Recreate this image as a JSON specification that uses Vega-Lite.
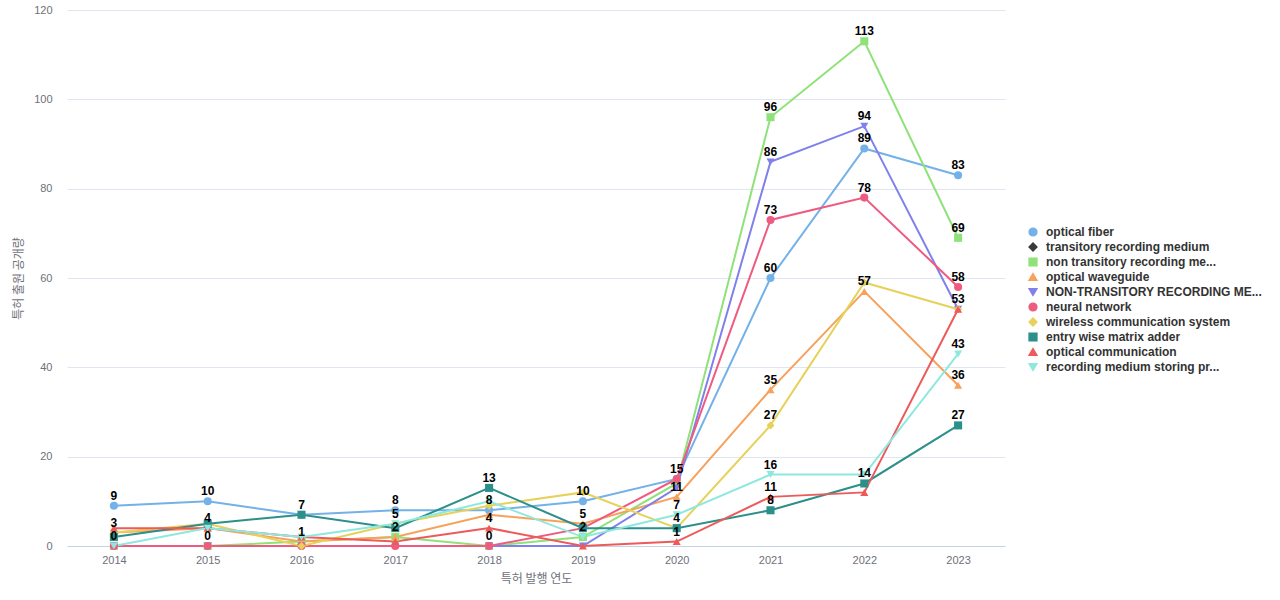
{
  "$schema": "https://vega.github.io/schema/vega-lite/v6.json",
  "width": 938,
  "height": 536,
  "autosize": {"type": "none"},
  "padding": {"left": 67, "top": 10, "right": 275, "bottom": 54},
  "config": {
    "background": "white",
    "view": {"stroke": null},
    "font": "Liberation Sans"
  },
  "data": {
    "values": [
      {"series": "optical fiber", "year": "2014", "value": 9},
      {"series": "optical fiber", "year": "2015", "value": 10},
      {"series": "optical fiber", "year": "2016", "value": 7},
      {"series": "optical fiber", "year": "2017", "value": 8},
      {"series": "optical fiber", "year": "2018", "value": 8},
      {"series": "optical fiber", "year": "2019", "value": 10},
      {"series": "optical fiber", "year": "2020", "value": 15},
      {"series": "optical fiber", "year": "2021", "value": 60},
      {"series": "optical fiber", "year": "2022", "value": 89},
      {"series": "optical fiber", "year": "2023", "value": 83},
      {"series": "non transitory recording me...", "year": "2014", "value": 0},
      {"series": "non transitory recording me...", "year": "2015", "value": 0},
      {"series": "non transitory recording me...", "year": "2016", "value": 1},
      {"series": "non transitory recording me...", "year": "2017", "value": 2},
      {"series": "non transitory recording me...", "year": "2018", "value": 0},
      {"series": "non transitory recording me...", "year": "2019", "value": 2},
      {"series": "non transitory recording me...", "year": "2020", "value": 14},
      {"series": "non transitory recording me...", "year": "2021", "value": 96},
      {"series": "non transitory recording me...", "year": "2022", "value": 113},
      {"series": "non transitory recording me...", "year": "2023", "value": 69},
      {"series": "optical waveguide", "year": "2014", "value": 3},
      {"series": "optical waveguide", "year": "2015", "value": 4},
      {"series": "optical waveguide", "year": "2016", "value": 1},
      {"series": "optical waveguide", "year": "2017", "value": 2},
      {"series": "optical waveguide", "year": "2018", "value": 7},
      {"series": "optical waveguide", "year": "2019", "value": 5},
      {"series": "optical waveguide", "year": "2020", "value": 11},
      {"series": "optical waveguide", "year": "2021", "value": 35},
      {"series": "optical waveguide", "year": "2022", "value": 57},
      {"series": "optical waveguide", "year": "2023", "value": 36},
      {"series": "NON-TRANSITORY RECORDING ME...", "year": "2014", "value": 0},
      {"series": "NON-TRANSITORY RECORDING ME...", "year": "2015", "value": 0},
      {"series": "NON-TRANSITORY RECORDING ME...", "year": "2016", "value": 0},
      {"series": "NON-TRANSITORY RECORDING ME...", "year": "2017", "value": 0},
      {"series": "NON-TRANSITORY RECORDING ME...", "year": "2018", "value": 0},
      {"series": "NON-TRANSITORY RECORDING ME...", "year": "2019", "value": 0},
      {"series": "NON-TRANSITORY RECORDING ME...", "year": "2020", "value": 13},
      {"series": "NON-TRANSITORY RECORDING ME...", "year": "2021", "value": 86},
      {"series": "NON-TRANSITORY RECORDING ME...", "year": "2022", "value": 94},
      {"series": "NON-TRANSITORY RECORDING ME...", "year": "2023", "value": 53},
      {"series": "neural network", "year": "2014", "value": 0},
      {"series": "neural network", "year": "2015", "value": 0},
      {"series": "neural network", "year": "2016", "value": 0},
      {"series": "neural network", "year": "2017", "value": 0},
      {"series": "neural network", "year": "2018", "value": 0},
      {"series": "neural network", "year": "2019", "value": 4},
      {"series": "neural network", "year": "2020", "value": 15},
      {"series": "neural network", "year": "2021", "value": 73},
      {"series": "neural network", "year": "2022", "value": 78},
      {"series": "neural network", "year": "2023", "value": 58},
      {"series": "wireless communication system", "year": "2014", "value": 3},
      {"series": "wireless communication system", "year": "2015", "value": 5},
      {"series": "wireless communication system", "year": "2016", "value": 0},
      {"series": "wireless communication system", "year": "2017", "value": 5},
      {"series": "wireless communication system", "year": "2018", "value": 9},
      {"series": "wireless communication system", "year": "2019", "value": 12},
      {"series": "wireless communication system", "year": "2020", "value": 4},
      {"series": "wireless communication system", "year": "2021", "value": 27},
      {"series": "wireless communication system", "year": "2022", "value": 59},
      {"series": "wireless communication system", "year": "2023", "value": 53},
      {"series": "entry wise matrix adder", "year": "2014", "value": 2},
      {"series": "entry wise matrix adder", "year": "2015", "value": 5},
      {"series": "entry wise matrix adder", "year": "2016", "value": 7},
      {"series": "entry wise matrix adder", "year": "2017", "value": 4},
      {"series": "entry wise matrix adder", "year": "2018", "value": 13},
      {"series": "entry wise matrix adder", "year": "2019", "value": 4},
      {"series": "entry wise matrix adder", "year": "2020", "value": 4},
      {"series": "entry wise matrix adder", "year": "2021", "value": 8},
      {"series": "entry wise matrix adder", "year": "2022", "value": 14},
      {"series": "entry wise matrix adder", "year": "2023", "value": 27},
      {"series": "optical communication", "year": "2014", "value": 4},
      {"series": "optical communication", "year": "2015", "value": 4},
      {"series": "optical communication", "year": "2016", "value": 2},
      {"series": "optical communication", "year": "2017", "value": 1},
      {"series": "optical communication", "year": "2018", "value": 4},
      {"series": "optical communication", "year": "2019", "value": 0},
      {"series": "optical communication", "year": "2020", "value": 1},
      {"series": "optical communication", "year": "2021", "value": 11},
      {"series": "optical communication", "year": "2022", "value": 12},
      {"series": "optical communication", "year": "2023", "value": 53},
      {"series": "recording medium storing pr...", "year": "2014", "value": 0},
      {"series": "recording medium storing pr...", "year": "2015", "value": 4},
      {"series": "recording medium storing pr...", "year": "2016", "value": 2},
      {"series": "recording medium storing pr...", "year": "2017", "value": 5},
      {"series": "recording medium storing pr...", "year": "2018", "value": 10},
      {"series": "recording medium storing pr...", "year": "2019", "value": 2},
      {"series": "recording medium storing pr...", "year": "2020", "value": 7},
      {"series": "recording medium storing pr...", "year": "2021", "value": 16},
      {"series": "recording medium storing pr...", "year": "2022", "value": 16},
      {"series": "recording medium storing pr...", "year": "2023", "value": 43}
    ]
  },
  "encoding": {
    "x": {
      "field": "year",
      "type": "ordinal",
      "title": "특허 발행 연도",
      "axis": {
        "labelAngle": 0,
        "labelColor": "#6e7079",
        "labelFontSize": 11,
        "labelPadding": 8,
        "ticks": false,
        "domainColor": "#c6d2e8",
        "titleColor": "#6e7079",
        "titleFont": "Noto Sans CJK KR",
        "titleFontSize": 12,
        "titleFontWeight": "normal",
        "titlePadding": 8
      }
    },
    "y": {
      "field": "value",
      "type": "quantitative",
      "title": "특허 출원 공개량",
      "scale": {"domain": [0, 120], "nice": false},
      "axis": {
        "values": [0, 20, 40, 60, 80, 100, 120],
        "domain": false,
        "ticks": false,
        "gridColor": "#e0e6f1",
        "labelColor": "#6e7079",
        "labelFontSize": 11,
        "labelPadding": 15,
        "titleColor": "#6e7079",
        "titleFont": "Noto Sans CJK KR",
        "titleFontSize": 12,
        "titleFontWeight": "normal",
        "titlePadding": 8
      }
    },
    "color": {
      "field": "series",
      "type": "nominal",
      "title": null,
      "scale": {
        "domain": [
          "optical fiber",
          "transitory recording medium",
          "non transitory recording me...",
          "optical waveguide",
          "NON-TRANSITORY RECORDING ME...",
          "neural network",
          "wireless communication system",
          "entry wise matrix adder",
          "optical communication",
          "recording medium storing pr..."
        ],
        "range": ["#73b1e8", "#3a3a3a", "#8fe27a", "#f7a15b", "#8080ec", "#ef5a80", "#e6d25a", "#2b8f8a", "#ee5a5a", "#8ee8de"]
      },
      "legend": {
        "orient": "none",
        "legendX": 960,
        "legendY": 216,
        "labelFontSize": 12,
        "labelFontWeight": "bold",
        "labelColor": "#333333",
        "labelLimit": 260,
        "symbolSize": 60,
        "rowPadding": 1,
        "labelOffset": 7
      }
    }
  },
  "layer": [
    {
      "mark": {"type": "line", "strokeWidth": 2}
    },
    {
      "mark": {"type": "point", "filled": true, "opacity": 1, "size": 65},
      "encoding": {
        "shape": {
          "field": "series",
          "type": "nominal",
          "title": null,
          "scale": {
            "domain": [
              "optical fiber",
              "transitory recording medium",
              "non transitory recording me...",
              "optical waveguide",
              "NON-TRANSITORY RECORDING ME...",
              "neural network",
              "wireless communication system",
              "entry wise matrix adder",
              "optical communication",
              "recording medium storing pr..."
            ],
            "range": ["circle", "diamond", "square", "triangle-up", "triangle-down", "circle", "diamond", "square", "triangle-up", "triangle-down"]
          }
        }
      }
    },
    {
      "transform": [
        {
          "filter": "indexof(['optical fiber|2014','optical fiber|2015','optical fiber|2017','optical fiber|2018','optical fiber|2019','optical fiber|2021','optical fiber|2022','optical fiber|2023','entry wise matrix adder|2016','entry wise matrix adder|2018','entry wise matrix adder|2020','entry wise matrix adder|2021','entry wise matrix adder|2022','entry wise matrix adder|2023','recording medium storing pr...|2014','recording medium storing pr...|2017','recording medium storing pr...|2020','recording medium storing pr...|2021','recording medium storing pr...|2023','optical waveguide|2014','optical waveguide|2015','optical waveguide|2016','optical waveguide|2019','optical waveguide|2020','optical waveguide|2021','optical waveguide|2022','optical waveguide|2023','non transitory recording me...|2017','non transitory recording me...|2019','non transitory recording me...|2021','non transitory recording me...|2022','non transitory recording me...|2023','NON-TRANSITORY RECORDING ME...|2021','NON-TRANSITORY RECORDING ME...|2022','neural network|2015','neural network|2018','neural network|2020','neural network|2021','neural network|2022','neural network|2023','wireless communication system|2021','optical communication|2018','optical communication|2020','optical communication|2021','optical communication|2023'], datum.series + '|' + datum.year) >= 0"
        }
      ],
      "mark": {"type": "text", "dy": -10, "fontSize": 12, "fontWeight": "bold", "color": "black"},
      "encoding": {
        "text": {"field": "value", "type": "quantitative"},
        "color": {"value": "black"}
      }
    }
  ]
}
